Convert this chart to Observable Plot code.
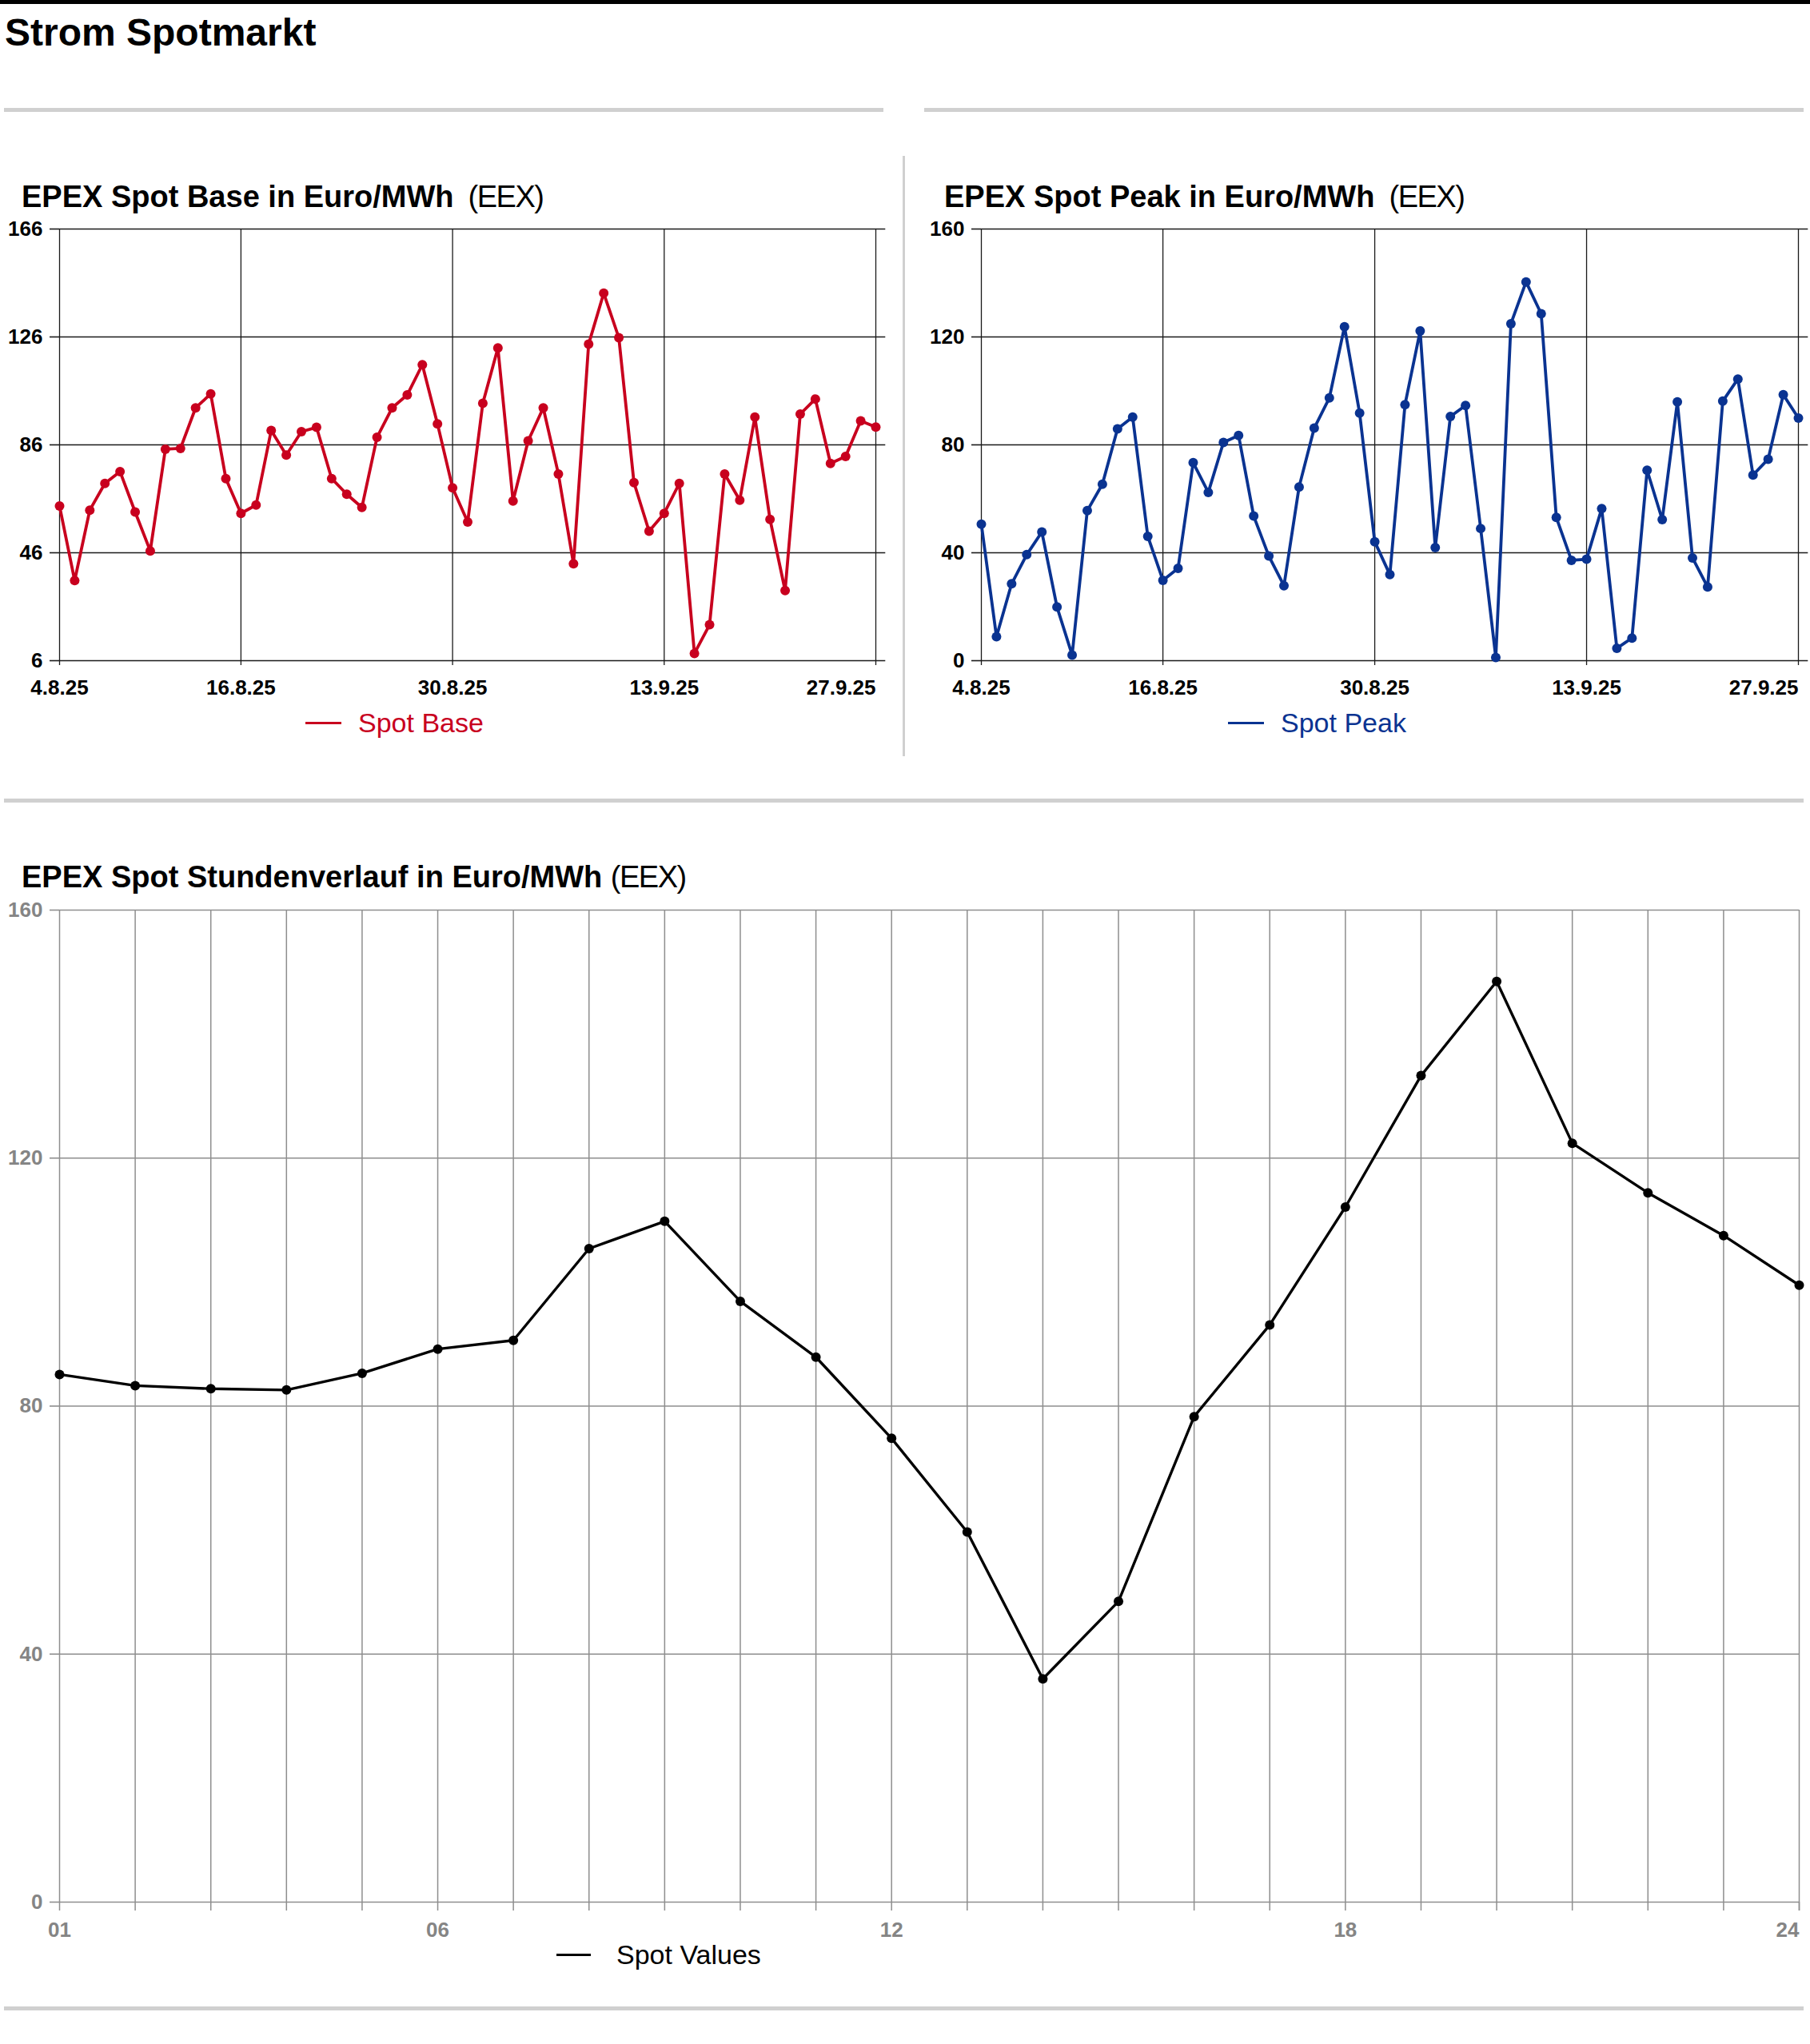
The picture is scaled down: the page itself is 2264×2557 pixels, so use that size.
<!DOCTYPE html>
<html><head><meta charset="utf-8">
<script src="https://cdn.jsdelivr.net/npm/d3@7"></script>
<script src="https://cdn.jsdelivr.net/npm/@observablehq/plot@0.6"></script>
<style>
html,body{margin:0;padding:0;background:#fff;}
#page{position:relative;width:2264px;height:2557px;font-family:'Liberation Sans',Arial,Helvetica,sans-serif;color:#000;overflow:hidden;background:#fff;}
.abs{position:absolute;}
.rule{position:absolute;background:#d0d0d0;height:5px;}
.h1{font-size:48px;font-weight:bold;line-height:1;white-space:nowrap;}
.h2{font-size:38px;font-weight:bold;line-height:1;white-space:nowrap;}
.h2 span{font-weight:normal;letter-spacing:-1.5px;}
.legend{font-size:34px;line-height:1;white-space:nowrap;display:flex;align-items:center;}
.legend i{display:inline-block;width:45px;height:3px;margin-right:21px;}
.chart{position:absolute;}
.chart svg{display:block;max-width:none;}
</style></head>
<body><div id="page">
<div class="abs" style="left:0;top:0;width:2264px;height:5px;background:#000"></div>
<div class="abs h1" style="left:6px;top:17px">Strom Spotmarkt</div>
<div class="rule" style="left:5px;top:135px;width:1100px"></div>
<div class="rule" style="left:1156px;top:135px;width:1100px"></div>
<div class="abs" style="left:1129px;top:195px;width:3px;height:751px;background:#d0d0d0"></div>
<div class="abs h2" style="left:27px;top:227px">EPEX Spot Base in Euro/MWh<span>&nbsp; (EEX)</span></div>
<div class="abs h2" style="left:1181px;top:227px">EPEX Spot Peak in Euro/MWh<span>&nbsp; (EEX)</span></div>
<div class="chart" id="base" style="left:0;top:270px"></div>
<div class="chart" id="peak" style="left:1140px;top:270px"></div>
<div class="abs legend" style="left:382px;top:887px;color:#c8001e"><i style="background:#c8001e"></i>Spot Base</div>
<div class="abs legend" style="left:1536px;top:887px;color:#0a3391"><i style="background:#0a3391"></i>Spot Peak</div>
<div class="rule" style="left:5px;top:999px;width:2251px"></div>
<div class="abs h2" style="left:27px;top:1078px">EPEX Spot Stundenverlauf in Euro/MWh <span>(EEX)</span></div>
<div class="chart" id="hours" style="left:0;top:1120px"></div>
<div class="abs legend" style="left:696px;top:2428px;color:#000"><i style="background:#000;width:43px;margin-right:32px"></i>Spot Values</div>
<div class="rule" style="left:5px;top:2510px;width:2251px"></div>
</div>
<script>
const dates = ["2025-08-04","2025-08-05","2025-08-06","2025-08-07","2025-08-08","2025-08-09","2025-08-10","2025-08-11","2025-08-12","2025-08-13","2025-08-14","2025-08-15","2025-08-16","2025-08-17","2025-08-18","2025-08-19","2025-08-20","2025-08-21","2025-08-22","2025-08-23","2025-08-24","2025-08-25","2025-08-26","2025-08-27","2025-08-28","2025-08-29","2025-08-30","2025-08-31","2025-09-01","2025-09-02","2025-09-03","2025-09-04","2025-09-05","2025-09-06","2025-09-07","2025-09-08","2025-09-09","2025-09-10","2025-09-11","2025-09-12","2025-09-13","2025-09-14","2025-09-15","2025-09-16","2025-09-17","2025-09-18","2025-09-19","2025-09-20","2025-09-21","2025-09-22","2025-09-23","2025-09-24","2025-09-25","2025-09-26","2025-09-27"];
const baseValues = [63.3,35.7,61.8,71.7,76.1,61.1,46.7,84.4,84.7,99.7,104.9,73.5,60.6,63.7,91.3,82.2,90.9,92.5,73.5,67.7,62.8,88.8,99.7,104.5,115.7,93.8,70.1,57.4,101.4,121.9,65.2,87.5,99.7,75.2,41.9,123.3,142.2,125.7,72.0,54.0,60.6,71.7,8.7,19.3,75.2,65.5,96.3,58.4,32.0,97.4,103.0,79.1,81.7,94.9,92.6];
const peakValues = [50.6,8.9,28.5,39.3,47.7,19.9,2.1,55.6,65.4,85.9,90.3,46.1,29.8,34.2,73.4,62.4,80.9,83.5,53.6,38.8,27.8,64.4,86.2,97.4,123.8,91.8,44.1,31.9,94.9,122.2,41.9,90.5,94.6,49.0,1.2,124.9,140.4,128.6,53.1,37.2,37.6,56.4,4.6,8.4,70.6,52.3,95.9,38.1,27.3,96.2,104.4,68.8,74.7,98.6,89.9];
const dateTicks = ["2025-08-04","2025-08-16","2025-08-30","2025-09-13","2025-09-27"];
const baseYTicks = [6,46,86,126,166];
const peakYTicks = [0,40,80,120,160];
const hours = [1,2,3,4,5,6,7,8,9,10,11,12,13,14,15,16,17,18,19,20,21,22,23,24];
const hourValues = [85.1,83.3,82.8,82.6,85.3,89.2,90.6,105.4,109.8,96.9,87.9,74.8,59.7,36.0,48.5,78.3,93.1,112.1,133.3,148.5,122.4,114.4,107.5,99.5];
const hourLabels = [1,6,12,18,24];
const hourYTicks = [0,40,80,120,160];

const FONT = "font-family:'Liberation Sans',Arial,Helvetica,sans-serif;font-size:26px;font-weight:bold;background:transparent;max-width:none;overflow:visible;";
const fmtDate = d => `${d.getUTCDate()}.${d.getUTCMonth()+1}.${String(d.getUTCFullYear()).slice(2)}`;

function dayChart(values, color, yTicks, width, ml, mr) {
  const data = dates.map((d, i) => ({date: new Date(d), value: values[i]}));
  const tickDates = dateTicks.map(d => new Date(d));
  const start = new Date(dates[0]);
  const end = new Date(dates[dates.length - 1]);
  const ext = new Date(end.getTime() + 0.65 * 864e5);
  const grid = "#1a1a1a";
  return Plot.plot({
    width, height: 610,
    marginLeft: ml, marginRight: mr, marginTop: 16, marginBottom: 54,
    style: FONT,
    x: {type: "utc", domain: [start, end]},
    y: {domain: [yTicks[0], yTicks[yTicks.length - 1]]},
    marks: [
      Plot.ruleX(tickDates, {stroke: grid, strokeWidth: 1.3}),
      Plot.ruleY(yTicks, {x1: () => start, x2: () => ext, stroke: grid, strokeWidth: 1.6}),
      Plot.axisY({ticks: yTicks, tickSize: 12, tickPadding: 9, label: null, stroke: grid, fill: "#000", strokeWidth: 1.6}),
      Plot.axisX({ticks: tickDates.slice(0, -1), tickFormat: fmtDate, tickSize: 6, tickPadding: 18, label: null, stroke: grid, fill: "#000", strokeWidth: 1.3}),
      Plot.axisX({ticks: tickDates.slice(-1), tickFormat: fmtDate, tickSize: 6, tickPadding: 18, textAnchor: "end", label: null, stroke: grid, fill: "#000", strokeWidth: 1.3}),
      Plot.line(data, {x: "date", y: "value", stroke: color, strokeWidth: 3.8, strokeLinejoin: "miter"}),
      Plot.dot(data, {x: "date", y: "value", r: 6, fill: color, stroke: "none"})
    ]
  });
}

document.getElementById("base").append(dayChart(baseValues, "#c8001e", baseYTicks, 1120, 74, 25));
document.getElementById("peak").append(dayChart(peakValues, "#0a3391", peakYTicks, 1124, 87, 15));

(function() {
  const data = hours.map((h, i) => ({hour: h, value: hourValues[i]}));
  const grid = "#8e8e8e";
  const last = hours[hours.length - 1];
  const chart = Plot.plot({
    width: 2264, height: 1330,
    marginLeft: 74, marginRight: 14, marginTop: 18, marginBottom: 71,
    style: FONT,
    x: {domain: [hours[0], last]},
    y: {domain: [hourYTicks[0], hourYTicks[hourYTicks.length - 1]]},
    marks: [
      Plot.ruleX(hours, {stroke: grid, strokeWidth: 1.5}),
      Plot.ruleY(hourYTicks, {stroke: grid, strokeWidth: 1.6}),
      Plot.axisY({ticks: hourYTicks, tickSize: 12, tickPadding: 9, label: null, stroke: grid, fill: "#858585", strokeWidth: 1.6}),
      Plot.axisX({ticks: hours, tickFormat: h => hourLabels.includes(h) && h !== last ? String(h).padStart(2, "0") : "", tickSize: 11, tickPadding: 14, label: null, stroke: grid, fill: "#858585", strokeWidth: 1.5}),
      Plot.axisX({ticks: [last], tickFormat: h => String(h).padStart(2, "0"), tickSize: 11, tickPadding: 14, textAnchor: "end", label: null, stroke: grid, fill: "#858585", strokeWidth: 1.5}),
      Plot.line(data, {x: "hour", y: "value", stroke: "#000", strokeWidth: 3.4, strokeLinejoin: "miter"}),
      Plot.dot(data, {x: "hour", y: "value", r: 6, fill: "#000", stroke: "none"})
    ]
  });
  document.getElementById("hours").append(chart);
})();
</script>
</body></html>
